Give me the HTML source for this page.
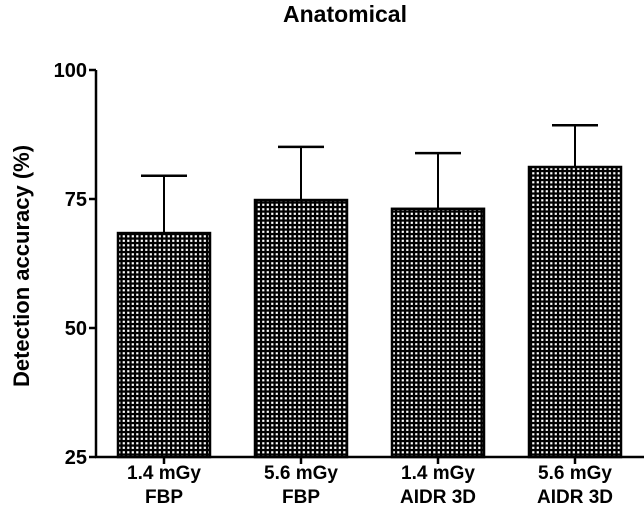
<!DOCTYPE html>
<html><head><meta charset="utf-8"><style>
body{margin:0;background:#fff}
svg text{font-family:"Liberation Sans",Arial,sans-serif;font-weight:bold;fill:#000}
</style></head><body>
<svg id="chart" width="644" height="510">
<defs>
<pattern id="chk" width="4.5" height="4.5" patternUnits="userSpaceOnUse">
<rect width="4.5" height="4.5" fill="#000"/><rect x="1.2" y="1.2" width="2.2" height="2.2" fill="#fff"/>
</pattern>
</defs>
<text x="345" y="22" text-anchor="middle" font-size="23">Anatomical</text>
<text transform="translate(29,266) rotate(-90)" text-anchor="middle" font-size="22">Detection accuracy (%)</text>
<g id="plot"></g>
</svg>
<script>
const categories=[["1.4 mGy","FBP"],["5.6 mGy","FBP"],["1.4 mGy","AIDR 3D"],["5.6 mGy","AIDR 3D"]];
const means=[68.4,74.8,73.1,81.2];
const errs=[11.1,10.3,10.8,8.1];
const yTicks=[25,50,75,100];
const NS="http://www.w3.org/2000/svg";
const g=document.getElementById('plot');
const y0=457,y1=70,vmin=25,vmax=100;
const yS=v=>y0-(v-vmin)/(vmax-vmin)*(y0-y1);
const xS=i=>164+i*137;
function mk(t,a,p){const e=document.createElementNS(NS,t);for(const k in a)e.setAttribute(k,a[k]);(p||g).appendChild(e);return e;}
let ax=mk('line',{x1:96,y1:y1,x2:96,y2:y0,stroke:'#000','stroke-width':2.5});


let xa=mk('line',{x1:95,y1:y0,x2:644,y2:y0,stroke:'#000','stroke-width':2.5});


yTicks.forEach(v=>{
 const y=yS(v);
 mk('line',{x1:89,y1:y,x2:96,y2:y,stroke:'#000','stroke-width':2.5});
 const t=mk('text',{x:87,y:y+7,'text-anchor':'end','font-size':20});
 t.textContent=v;
 
 
});
means.forEach((m,i)=>{
 const cx=xS(i),top=yS(m),et=yS(m+errs[i]);
 const ln=mk('line',{x1:cx,y1:top,x2:cx,y2:et,stroke:'#000','stroke-width':2});
 
 
 mk('line',{x1:cx-23,y1:et,x2:cx+23,y2:et,stroke:'#000','stroke-width':2.5});
 const r=mk('rect',{x:cx-46,y:top,width:92,height:y0-top,fill:'url(#chk)',stroke:'#000','stroke-width':2.5});
 
 
 mk('line',{x1:cx,y1:y0,x2:cx,y2:y0+7,stroke:'#000','stroke-width':2.5});
 categories[i].forEach((s,j)=>{
  const t=mk('text',{x:cx,y:479+j*24,'text-anchor':'middle','font-size':19});
  t.textContent=s;
  
  
 });
});
</script>
</body></html>
